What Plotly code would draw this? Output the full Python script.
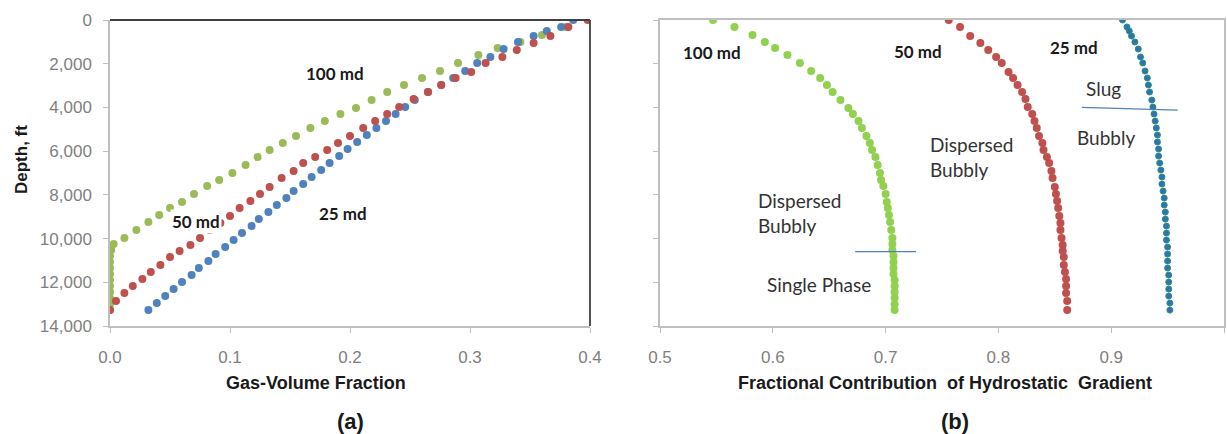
import plotly.graph_objects as go

# ---------------- Panel (a): Gas-volume fraction vs depth ----------------
depth_100 = [0, 320, 687, 1007, 1282, 1602, 1968, 2334, 2655, 2975, 3295, 3662, 4028, 4302,
             4623, 4943, 5309, 5630, 5950, 6270, 6636, 7003, 7323, 7598, 7964, 8330, 8605,
             8925, 9246, 9612, 9978, 10252, 10527, 10800, 11075, 11350, 11625, 11900, 12175,
             12450, 12724, 13000, 13273]
gvf_100 = [0.400, 0.380, 0.360, 0.342, 0.323, 0.307, 0.290, 0.275, 0.260, 0.245, 0.231, 0.218,
           0.205, 0.192, 0.179, 0.167, 0.155, 0.144, 0.133, 0.123, 0.113, 0.102, 0.091, 0.081,
           0.070, 0.060, 0.050, 0.041, 0.032, 0.022, 0.012, 0.003, 0.001, 0.0, 0.0, 0.0, 0.0,
           0.0, 0.0, 0.0, 0.0, 0.0, 0.0]

depth_50 = [0, 320, 732, 1053, 1373, 1693, 1968, 2380, 2655, 2975, 3295, 3616, 3982, 4302,
            4623, 4943, 5309, 5630, 5950, 6270, 6545, 6911, 7232, 7644, 7964, 8284, 8605,
            8971, 9292, 9612, 9978, 10298, 10573, 10848, 11214, 11534, 11855, 12175, 12495,
            12861, 13273]
gvf_50 = [0.398, 0.382, 0.367, 0.353, 0.339, 0.327, 0.313, 0.301, 0.288, 0.276, 0.265, 0.253,
          0.241, 0.231, 0.221, 0.211, 0.200, 0.190, 0.181, 0.171, 0.161, 0.153, 0.143, 0.133,
          0.125, 0.117, 0.108, 0.100, 0.092, 0.083, 0.075, 0.067, 0.058, 0.050, 0.042, 0.034,
          0.027, 0.019, 0.012, 0.005, 0.000]

depth_25 = [0, 320, 503, 732, 1007, 1327, 1693, 1968, 2334, 2655, 2975, 3295, 3662, 3982,
            4302, 4623, 4943, 5264, 5584, 5904, 6225, 6545, 6866, 7186, 7506, 7827, 8147,
            8467, 8788, 9108, 9429, 9749, 10069, 10390, 10710, 11030, 11351, 11671, 11992,
            12312, 12633, 12953, 13273]
gvf_25 = [0.386, 0.376, 0.364, 0.353, 0.340, 0.328, 0.317, 0.306, 0.296, 0.286, 0.276, 0.265,
          0.254, 0.246, 0.238, 0.230, 0.222, 0.214, 0.206, 0.198, 0.191, 0.183, 0.176, 0.168,
          0.161, 0.153, 0.147, 0.139, 0.132, 0.124, 0.118, 0.110, 0.103, 0.096, 0.088, 0.082,
          0.074, 0.068, 0.060, 0.053, 0.046, 0.039, 0.032]

# ---------------- Panel (b): fractional contribution of hydrostatic gradient ----------------
frac_100 = [0.547, 0.566, 0.582, 0.593, 0.602, 0.613, 0.624, 0.634, 0.642, 0.648, 0.653, 0.660,
            0.667, 0.671, 0.676, 0.679, 0.683, 0.686, 0.688, 0.691, 0.693, 0.695, 0.696, 0.698,
            0.700, 0.701, 0.702, 0.703, 0.704, 0.705, 0.706, 0.706, 0.706, 0.707, 0.707, 0.707,
            0.707, 0.708, 0.708, 0.708, 0.708, 0.708, 0.708]
frac_50 = [0.756, 0.766, 0.775, 0.784, 0.791, 0.798, 0.803, 0.809, 0.813, 0.817, 0.821, 0.824,
           0.826, 0.830, 0.832, 0.834, 0.836, 0.839, 0.840, 0.843, 0.845, 0.847, 0.848, 0.850,
           0.851, 0.852, 0.853, 0.854, 0.855, 0.855, 0.856, 0.857, 0.857, 0.858, 0.858, 0.859,
           0.860, 0.860, 0.860, 0.861, 0.861]
frac_25 = [0.910, 0.914, 0.916, 0.918, 0.921, 0.924, 0.926, 0.928, 0.930, 0.932, 0.933, 0.934,
           0.936, 0.937, 0.938, 0.939, 0.940, 0.941, 0.941, 0.942, 0.942, 0.943, 0.944, 0.945,
           0.945, 0.946, 0.947, 0.947, 0.948, 0.948, 0.949, 0.949, 0.949, 0.950, 0.950, 0.950,
           0.950, 0.951, 0.951, 0.951, 0.951, 0.952, 0.952]

# flow-regime transition markers (x range, depth)
trans_100_x = [0.673, 0.727]
trans_100_d = [10600, 10600]
trans_25_x = [0.874, 0.959]
trans_25_d = [4000, 4120]

depth_ticks = [0, 2000, 4000, 6000, 8000, 10000, 12000, 14000]
x1_ticks = [0.0, 0.1, 0.2, 0.3, 0.4]
x1_ticktext = ["0.0", "0.1", "0.2", "0.3", "0.4"]
x2_ticks = [0.5, 0.6, 0.7, 0.8, 0.9, 1.0]
x2_ticktext = ["0.5", "0.6", "0.7", "0.8", "0.9", "1"]

GREEN_A, RED_A, BLUE_A = "#9bbb59", "#c0504d", "#4f81bd"
GREEN_B, RED_B, BLUE_B = "#92d050", "#c0504d", "#2c74b3"

fig = go.Figure()

def dots(x, y, color, xa, ya, size=8, line=None):
    fig.add_trace(go.Scatter(
        x=x, y=y, mode="markers", xaxis=xa, yaxis=ya, showlegend=False,
        marker=dict(color=color, size=size,
                    line=dict(width=1 if line else 0, color=line or color))))

dots(gvf_100, depth_100, GREEN_A, "x", "y")
dots(gvf_25, depth_25, BLUE_A, "x", "y")
dots(gvf_50, depth_50, RED_A, "x", "y")

dots(frac_100, depth_100, GREEN_B, "x2", "y2", size=8)
dots(frac_50, depth_50, RED_B, "x2", "y2", size=8)
dots(frac_25, depth_25, BLUE_B, "x2", "y2", size=6, line="#2f8f7a")

for tx, td in ((trans_100_x, trans_100_d), (trans_25_x, trans_25_d)):
    fig.add_trace(go.Scatter(x=tx, y=td, mode="lines", xaxis="x2", yaxis="y2",
                             showlegend=False, line=dict(color="#4f81bd", width=1.2)))

TICKFONT = dict(family="Liberation Sans, Arial", size=17, color="#7f7f7f")
YDOM = [1 - 326 / 434, 1 - 20 / 434]
GRID_GRAY = "#bfbfbf"

fig.update_layout(
    width=1227, height=434,
    margin=dict(l=0, r=0, t=0, b=0, autoexpand=False),
    paper_bgcolor="white", plot_bgcolor="white",
    xaxis=dict(domain=[110 / 1227, 590 / 1227], range=[0, 0.4], tickvals=x1_ticks,
               ticktext=x1_ticktext, showgrid=False, zeroline=False, showline=True,
               linecolor=GRID_GRAY, linewidth=1.5, ticks="outside", ticklen=5,
               tickcolor=GRID_GRAY, tickfont=TICKFONT, ticklabelstandoff=10,
               automargin=False),
    yaxis=dict(domain=YDOM, range=[14000, 0], tickvals=depth_ticks, tickformat=",d",
               showgrid=False, zeroline=False, showline=True, linecolor=GRID_GRAY,
               linewidth=1.5, ticks="outside", ticklen=5, tickcolor=GRID_GRAY,
               tickfont=TICKFONT, ticklabelstandoff=8, automargin=False),
    xaxis2=dict(domain=[660 / 1227, 1224 / 1227], range=[0.5, 1.0], tickvals=x2_ticks,
                ticktext=x2_ticktext, showgrid=False, zeroline=False, showline=True,
                mirror=True, linecolor=GRID_GRAY, linewidth=1.5, ticks="outside", ticklen=5,
                tickcolor=GRID_GRAY, tickfont=TICKFONT, ticklabelstandoff=10, anchor="y2",
                automargin=False),
    yaxis2=dict(domain=YDOM, range=[14000, 0], tickvals=depth_ticks, showticklabels=False,
                showgrid=False, zeroline=False, showline=True, mirror=True,
                linecolor=GRID_GRAY, linewidth=1.5, ticks="outside", ticklen=5,
                tickcolor=GRID_GRAY, anchor="x2", automargin=False),
)

# dark top and right frame of panel (a)
fig.add_shape(type="line", xref="x domain", yref="y domain", x0=0, x1=1, y0=1, y1=1,
              line=dict(color="#404040", width=1.8))
fig.add_shape(type="line", xref="x domain", yref="y domain", x0=1, x1=1, y0=0, y1=1,
              line=dict(color="#404040", width=1.8))

LBL_B = dict(family="Lato, Open Sans", size=17, color="#1a1a1a")
LBL_R = dict(family="Lato, Open Sans", size=19, color="#333333")
TITLE = dict(family="Liberation Sans, Arial", size=17, color="#1a1a1a")
TITLE_X = dict(family="Liberation Sans, Arial", size=18, color="#1a1a1a")

ann = []
def label(text, x, y, xr, yr, font, xanchor="center", bg=None):
    d = dict(text=text, x=x, y=y, xref=xr, yref=yr, showarrow=False, font=font,
             xanchor=xanchor, yanchor="middle", align="left")
    if bg:
        d["bgcolor"] = bg
    ann.append(d)

label("<b>100 md</b>", 0.1875, 2426, "x", "y", LBL_B)
label("<b>50 md</b>", 0.0717, 9200, "x", "y", LBL_B, bg="white")
label("<b>25 md</b>", 0.194, 8834, "x", "y", LBL_B)

label("<b>100 md</b>", 0.546, 1468, "x2", "y2", LBL_B)
label("<b>50 md</b>", 0.729, 1422, "x2", "y2", LBL_B)
label("<b>25 md</b>", 0.867, 1239, "x2", "y2", LBL_B)
label("Dispersed<br>Bubbly", 0.585, 8807, "x2", "y2", LBL_R, xanchor="left")
label("Single Phase", 0.593, 12110, "x2", "y2", LBL_R, xanchor="left")
label("Dispersed<br>Bubbly", 0.738, 6284, "x2", "y2", LBL_R, xanchor="left")
label("Slug", 0.876, 3119, "x2", "y2", LBL_R, xanchor="left")
label("Bubbly", 0.868, 5367, "x2", "y2", LBL_R, xanchor="left")

label("<b>Gas-Volume Fraction</b>", 316 / 1227, 1 - 383 / 434, "paper", "paper", TITLE_X)
label("<b>Fractional Contribution  of Hydrostatic  Gradient</b>", 945 / 1227, 1 - 383 / 434,
      "paper", "paper", TITLE_X)
label("<b>(a)</b>", 350 / 1227, 1 - 421 / 434, "paper", "paper",
      dict(family="Liberation Sans, Arial", size=22, color="#1a1a1a"))
label("<b>(b)</b>", 955 / 1227, 1 - 421 / 434, "paper", "paper",
      dict(family="Liberation Sans, Arial", size=22, color="#1a1a1a"))
ann.append(dict(text="<b>Depth, ft</b>", x=22 / 1227, y=1 - 160 / 434, xref="paper",
                yref="paper", showarrow=False, textangle=-90, font=TITLE,
                xanchor="center", yanchor="middle"))

fig.update_layout(annotations=ann)
fig.write_html("out.html")
